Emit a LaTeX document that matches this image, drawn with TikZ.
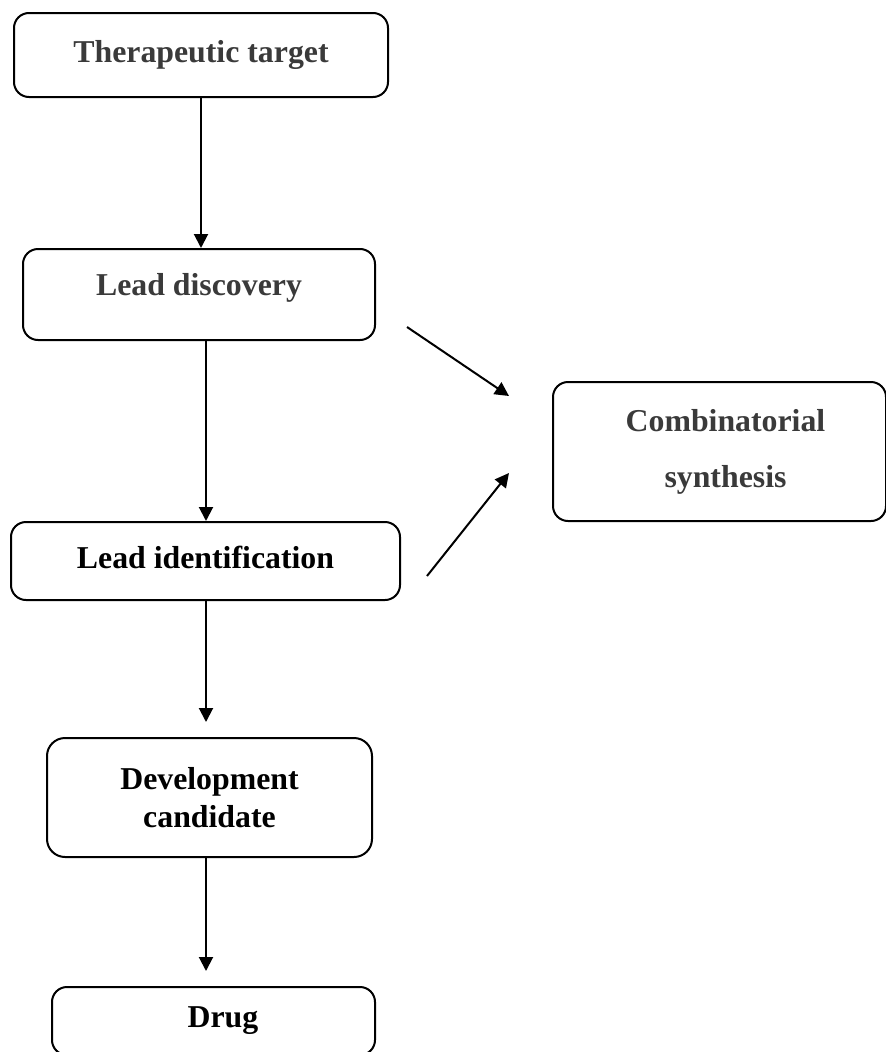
\documentclass[tikz,border=0pt]{standalone}
\usepackage{fontspec}
\setmainfont{Liberation Serif}
\usetikzlibrary{arrows.meta}
\definecolor{darkgraytext}{HTML}{3A3A3A}
\begin{document}
\begin{tikzpicture}[x=1pt,y=-1pt,
  box/.style={draw=black, line width=2pt, rounded corners=15pt, fill=white,
    inner sep=0pt, align=center, font=\fontsize{31.8}{40}\selectfont\bfseries},
  graytext/.style={text=darkgraytext},
  arr/.style={draw=black, line width=2pt, -{Triangle[length=14pt,width=14pt]}}]
\useasboundingbox (0,0) rectangle (886,1052);
\clip (0,0) rectangle (886,1052);
\fill[white] (0,0) rectangle (886,1052);
\node[box, graytext, minimum width=374pt, minimum height=84pt] (target) at (201,55) {\raisebox{1pt}{Therapeutic target}};
\node[box, graytext, minimum width=352pt, minimum height=91pt, text height=22pt, text depth=21pt] (discovery) at (199,294.5) {Lead discovery};
\node[box, graytext, minimum width=333pt, minimum height=139pt] (comb) at (719.5,451.5) {\hspace*{12pt}Combinatorial\\[16pt]\hspace*{12pt}synthesis};
\node[box, minimum width=389pt, minimum height=78pt, text height=22pt, text depth=8pt] (ident) at (205.5,561) {Lead identification};
\node[box, rounded corners=18pt, minimum width=325pt, minimum height=119pt] (devel) at (209.5,797.5) {Development\\[-2pt]candidate};
\node[box, minimum width=323pt, minimum height=68pt] (drug) at (213.5,1021) {\hspace*{19pt}Drug};
\coordinate (a3end) at (206,722);
\coordinate (a4end) at (206,971);
\coordinate (d1start) at (407,327);
\coordinate (d1end) at (509,396);
\coordinate (d2start) at (427,576);
\coordinate (d2end) at (509,473);
\draw[arr] (target.south) -- (target.south |- discovery.north);
\draw[arr] ([xshift=7pt]discovery.south) -- ([xshift=7pt]discovery.south |- ident.north);
\draw[arr] (ident.south -| a3end) -- (a3end);
\draw[arr] (devel.south -| a4end) -- (a4end);
\draw[arr] (d1start) -- (d1end);
\draw[arr] (d2start) -- (d2end);
\end{tikzpicture}
\end{document}
